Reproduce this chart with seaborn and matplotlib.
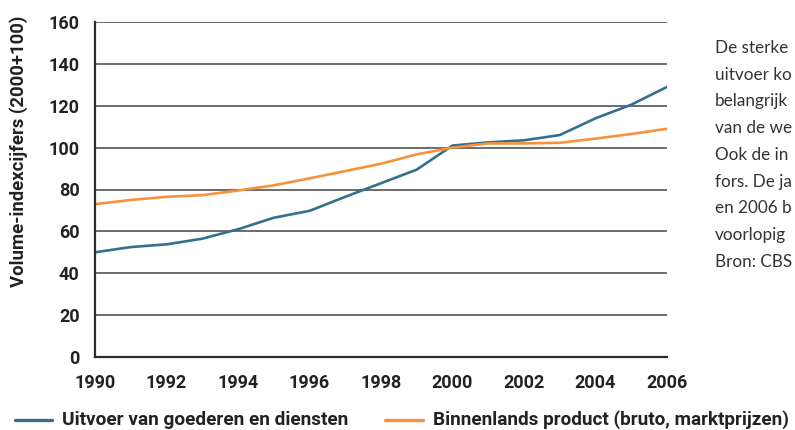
import numpy as np
import pandas as pd
import matplotlib
matplotlib.use('Agg')
import matplotlib.pyplot as plt
import seaborn as sns
from matplotlib.lines import Line2D

# Data (index 2000 = 100)
years = list(range(1990, 2007))
uitvoer = [50, 52.5, 53.8, 56.5, 61, 66.5, 69.8, 76.5, 83, 89.5,
           101, 102.5, 103.5, 106, 114, 120.5, 129]
bbp = [73, 75, 76.5, 77.3, 79.5, 82, 85.3, 88.8, 92.3, 96.8,
       100, 102, 102, 102.3, 104.3, 106.5, 109]
series_names = ['Uitvoer van goederen en diensten',
                'Binnenlands product (bruto, marktprijzen)']
side_lines = ['De sterke', 'uitvoer ko', 'belangrijk', 'van de we',
              'Ook de in', 'fors. De ja', 'en 2006 b', 'voorlopig', 'Bron: CBS']

sns.set_style('white')
plt.rcParams['font.family'] = ['Roboto', 'DejaVu Sans']

blue = '#336f8f'
orange = '#f7923a'
dark = '#2b2b2b'
W, H = 795, 430

fig = plt.figure(figsize=(7.95, 4.30), dpi=100, facecolor='white')
ax = fig.add_axes([95 / W, 1 - 357 / H, 572 / W, 335 / H])

sns.lineplot(x=years, y=uitvoer, ax=ax, color=blue, linewidth=1.9)
sns.lineplot(x=years, y=bbp, ax=ax, color=orange, linewidth=1.9)

ax.set_xlim(1990, 2006)
ax.set_ylim(0, 160)
ax.set_yticks(np.arange(0, 161, 20))
ax.set_xticks(np.arange(1990, 2007, 2))
ax.set_xticks(np.arange(1990, 2007, 1), minor=True)
ax.grid(axis='y', color='#444444', linewidth=1.1)
ax.set_axisbelow(True)
for s in ['top', 'right']:
    ax.spines[s].set_visible(False)
for s in ['left', 'bottom']:
    ax.spines[s].set_color(dark)
    ax.spines[s].set_linewidth(1.6)

ax.tick_params(axis='x', which='both', direction='out', length=6, width=1.4,
               color=dark, pad=6)
ax.tick_params(axis='y', direction='out', length=7, width=1.2, color=dark, pad=4)
for lab in ax.get_xticklabels() + ax.get_yticklabels():
    lab.set_fontweight('bold')
    lab.set_fontsize(13)
    lab.set_color('#222222')

ax.set_ylabel('Volume-indexcijfers (2000+100)', fontsize=13.3, fontweight='bold',
              color='#222222')
ax.yaxis.set_label_coords((28 - 95) / 572, (357 - 151) / 335)
ax.set_xlabel('')

# legend drawn along the bottom edge
leg_y = 1 - 420 / H
fig.add_artist(Line2D([15 / W, 52 / W], [leg_y, leg_y], color=blue, linewidth=2.4))
fig.add_artist(Line2D([385 / W, 423 / W], [leg_y, leg_y], color=orange, linewidth=2.4))
fig.text(62 / W, leg_y, series_names[0], fontsize=13.7, fontweight='bold',
         color='#222222', va='center', ha='left')
fig.text(433 / W, leg_y, series_names[1], fontsize=13.6, fontweight='bold',
         color='#222222', va='center', ha='left')

for i, t in enumerate(side_lines):
    fig.text(715 / W, 1 - (48 + i * 26.7) / H, t, fontsize=12.3, color='#333333',
             family=['Lato', 'DejaVu Sans'], va='center', ha='left')

fig.savefig('out.png', dpi=100, facecolor='white')
